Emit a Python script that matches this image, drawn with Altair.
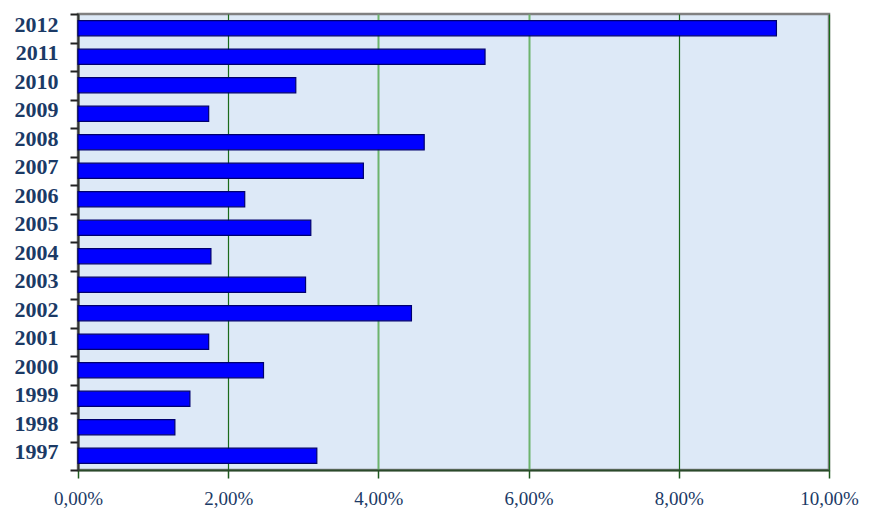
import altair as alt
import pandas as pd

years = ["1997", "1998", "1999", "2000", "2001", "2002", "2003", "2004",
         "2005", "2006", "2007", "2008", "2009", "2010", "2011", "2012"]
values = [3.18, 1.29, 1.49, 2.47, 1.74, 4.44, 3.03, 1.77,
          3.10, 2.22, 3.80, 4.61, 1.74, 2.90, 5.42, 9.30]
x_ticks = [0, 2, 4, 6, 8, 10]

df = pd.DataFrame({"year": years, "value": values})

label_color = "#1b3a66"

chart = alt.Chart(df).mark_bar(
    color="#0000ff", stroke="#00006e", strokeWidth=1.2,
    height=alt.RelativeBandSize(0.53),
).encode(
    x=alt.X(
        "value:Q",
        scale=alt.Scale(domain=[0, 10], nice=False),
        axis=alt.Axis(
            values=x_ticks,
            title=None,
            labelExpr="replace(format(datum.value, '.2f'), '.', ',') + '%'",
            labelFont="Liberation Serif",
            labelFontSize=19,
            labelColor=label_color,
            labelPadding=11,
            labelFlush=False,
            tickSize=8,
            tickColor="#1e5a1e",
            tickWidth=1.5,
            domainColor="#2a4a2a",
            domainWidth=2,
            grid=True,
            gridColor={"condition": {"test": "datum.value == 4 || datum.value == 6",
                                     "value": "#6db46d"},
                       "value": "#1a6a1a"},
            gridWidth={"condition": {"test": "datum.value == 4 || datum.value == 6",
                                     "value": 2},
                       "value": 1.2},
        ),
    ),
    y=alt.Y(
        "year:N",
        sort="descending",
        scale=alt.Scale(paddingInner=0, paddingOuter=0),
        axis=alt.Axis(
            title=None,
            labelFont="Liberation Serif",
            labelFontSize=22,
            labelFontWeight="bold",
            labelColor=label_color,
            labelPadding=12,
            labelOffset=-4,
            tickBand="extent",
            tickSize=8,
            tickColor="#222222",
            tickWidth=2,
            domainColor="#333333",
            domainWidth=2,
            grid=False,
        ),
    ),
).properties(
    width=751,
    height=456,
    padding={"left": 70, "top": 6, "right": 32, "bottom": 40},
    autosize=alt.AutoSizeParams(type="none"),
    background="white",
).configure_view(
    fill="#dde9f7",
    stroke="#808080",
    strokeWidth=2.5,
)

chart.save("out.html", embed_options={"renderer": "svg", "actions": False})
